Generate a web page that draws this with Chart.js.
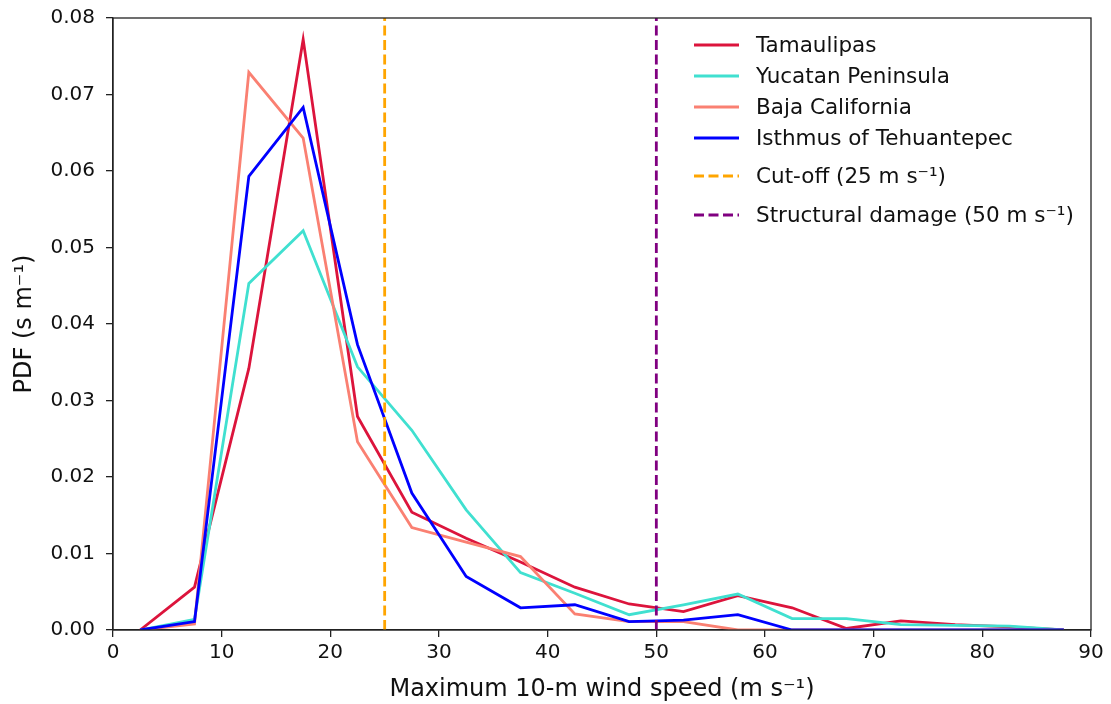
<!DOCTYPE html>
<html lang="en">
<head>
  <meta charset="UTF-8" />
  <title>PDF of maximum 10-m wind speed</title>
  <script src="https://cdn.jsdelivr.net/npm/chart.js"></script>
  <style>
    html, body { margin: 0; padding: 0; background: #fff; }
    #wrap { width: 1111px; height: 704px; }
  </style>
</head>
<body>
  <div id="wrap"><canvas id="pdfChart" width="1111" height="704"></canvas></div>

  <script>
    // bin centres (m s-1)
    const windSpeed = [2.5, 7.5, 12.5, 17.5, 22.5, 27.5, 32.5, 37.5, 42.5, 47.5, 52.5, 57.5, 62.5, 67.5, 72.5, 77.5, 82.5, 87.5];

    // PDF values per region (s m-1)
    const tamaulipas = [0, 0.0056, 0.0342, 0.0772, 0.0279, 0.0154, 0.0120, 0.0089, 0.0056, 0.0034, 0.0024, 0.0045, 0.0029, 0.0002, 0.0012, 0.0007, 0.0004, 0];
    const yucatan    = [0, 0.0014, 0.0453, 0.0522, 0.0344, 0.0261, 0.0157, 0.0075, 0.0048, 0.0020, 0.0033, 0.0047, 0.0015, 0.0015, 0.0007, 0.0006, 0.0005, 0];
    const baja       = [0, 0.0008, 0.0729, 0.0643, 0.0246, 0.0134, 0.0115, 0.0096, 0.0021, 0.0011, 0.0011, 0, 0, 0, 0, 0, 0, 0];
    const isthmus    = [0, 0.0011, 0.0593, 0.0683, 0.0373, 0.0179, 0.0070, 0.0029, 0.0033, 0.0011, 0.0013, 0.0020, 0, 0, 0, 0, 0, 0];

    // thresholds
    const cutoffSpeed = 25;
    const damageSpeed = 50;
    const yRange = [0, 0.08];

    const xTicks = [0, 10, 20, 30, 40, 50, 60, 70, 80, 90];
    const yTicks = [0, 0.01, 0.02, 0.03, 0.04, 0.05, 0.06, 0.07, 0.08];

    const toPoints = arr => windSpeed.map((x, i) => ({ x: x, y: arr[i] }));
    const vLine = x => yRange.map(y => ({ x: x, y: y }));

    const FONT = "'DejaVu Sans', sans-serif";
    const INK = '#111';

    function series(label, data, color, order) {
      return {
        label: label,
        data: toPoints(data),
        borderColor: color,
        backgroundColor: color,
        borderWidth: 2.8,
        pointRadius: 0,
        tension: 0,
        fill: false,
        order: order
      };
    }

    function threshold(label, x, color, order) {
      return {
        label: label,
        data: vLine(x),
        borderColor: color,
        backgroundColor: color,
        borderWidth: 2.8,
        borderDash: [10, 4.5],
        pointRadius: 0,
        fill: false,
        order: order
      };
    }

    const datasets = [
      series('Tamaulipas', tamaulipas, '#dc143c', 5),
      series('Yucatan Peninsula', yucatan, '#40e0d0', 4),
      series('Baja California', baja, '#fa8072', 3),
      series('Isthmus of Tehuantepec', isthmus, '#0000ff', 2),
      threshold('Cut-off (25 m s\u207B\u00B9)', cutoffSpeed, '#ffa500', 1),
      threshold('Structural damage (50 m s\u207B\u00B9)', damageSpeed, '#800080', 0)
    ];

    // legend rows (y) inside the axes, matplotlib style
    const legendRows = [45, 76, 107, 138, 176, 215];

    const framePlugin = {
      id: 'frame',
      afterDraw(chart) {
        const { ctx, chartArea: a } = chart;
        ctx.save();
        ctx.strokeStyle = '#222';
        ctx.lineWidth = 1.3;
        ctx.strokeRect(a.left, a.top, a.right - a.left, a.bottom - a.top);

        // legend
        ctx.font = '21.5px ' + FONT;
        ctx.textBaseline = 'middle';
        ctx.textAlign = 'left';
        chart.data.datasets.forEach((ds, i) => {
          const y = legendRows[i];
          ctx.beginPath();
          ctx.strokeStyle = ds.borderColor;
          ctx.lineWidth = ds.borderWidth;
          ctx.setLineDash(ds.borderDash || []);
          ctx.moveTo(694, y);
          ctx.lineTo(739, y);
          ctx.stroke();
          ctx.setLineDash([]);
          ctx.fillStyle = INK;
          ctx.fillText(ds.label, 756, y + 1);
        });
        ctx.restore();
      }
    };

    new Chart(document.getElementById('pdfChart'), {
      type: 'line',
      data: { datasets: datasets },
      options: {
        responsive: false,
        animation: false,
        layout: { padding: { left: 0, top: 18, right: 20, bottom: 0 } },
        plugins: {
          legend: { display: false },
          tooltip: { enabled: false }
        },
        scales: {
          x: {
            type: 'linear',
            min: 0,
            max: 90,
            afterFit(scale) { scale.height = 74; },
            afterBuildTicks(scale) { scale.ticks = xTicks.map(v => ({ value: v })); },
            ticks: {
              font: { family: FONT, size: 20 },
              color: INK,
              padding: 4,
              maxRotation: 0,
              callback: v => String(v)
            },
            grid: { drawOnChartArea: false, drawTicks: true, tickLength: 7, color: '#222', lineWidth: 1.3 },
            border: { display: true, color: '#222', width: 1.3 },
            title: {
              display: true,
              text: 'Maximum 10-m wind speed (m s\u207B\u00B9)',
              font: { family: FONT, size: 24 },
              color: INK,
              padding: { top: 0, bottom: 0 }
            }
          },
          y: {
            type: 'linear',
            min: yRange[0],
            max: yRange[1],
            afterFit(scale) {
              scale.width = 113;
              scale.paddingTop = 0;
              scale.paddingBottom = 0;
            },
            afterBuildTicks(scale) { scale.ticks = yTicks.map(v => ({ value: v })); },
            ticks: {
              font: { family: FONT, size: 20 },
              color: INK,
              padding: 11,
              callback: v => v.toFixed(2)
            },
            grid: { drawOnChartArea: false, drawTicks: true, tickLength: 7, color: '#222', lineWidth: 1.3 },
            border: { display: true, color: '#222', width: 1.3 },
            title: {
              display: true,
              text: 'PDF (s m\u207B\u00B9)',
              font: { family: FONT, size: 24 },
              color: INK,
              padding: { top: 10, bottom: 0 }
            }
          }
        }
      },
      plugins: [framePlugin]
    });
  </script>
</body>
</html>
